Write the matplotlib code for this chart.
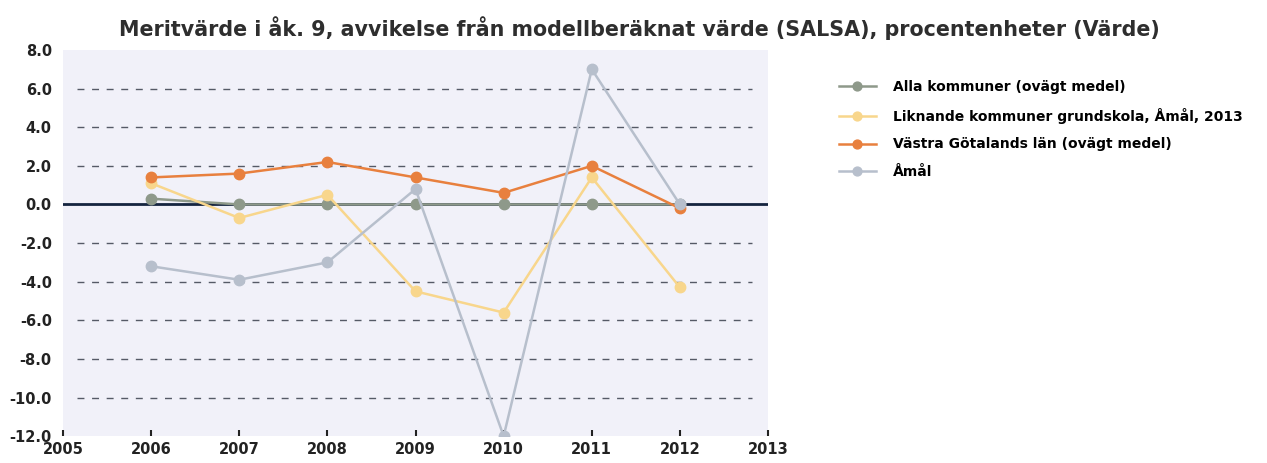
import numpy as np
import matplotlib.pyplot as plt

years = [2006, 2007, 2008, 2009, 2010, 2011, 2012]
alla = [0.3, 0.0, 0.0, 0.0, 0.0, 0.0, 0.0]
liknande = [1.1, -0.7, 0.5, -4.5, -5.6, 1.4, -4.3]
vastra = [1.4, 1.6, 2.2, 1.4, 0.6, 2.0, -0.2]
amal = [-3.2, -3.9, -3.0, 0.8, -12.0, 7.0, 0.0]

labels = ["Alla kommuner (ovägt medel)",
          "Liknande kommuner grundskola, Åmål, 2013",
          "Västra Götalands län (ovägt medel)",
          "Åmål"]
colors = ['#8e998a', '#f8d68c', '#e8803e', '#b7bfcc']

yticks = np.arange(-12, 9, 2)
xticks = np.arange(2005, 2014)

fig = plt.figure(figsize=(12.67, 4.63), dpi=100)
ax = fig.add_axes([0.0497, 0.058, 0.5565, 0.834])
ax.set_facecolor('#f1f1f9')

# streckat rutnät, inte ända ut till kanterna
for y in yticks:
    if y in (-12, 0, 8):
        continue
    ax.axhline(y, xmin=0.02, xmax=0.977, color='#555a66', lw=1.0,
               ls=(0, (5, 5.5)), zorder=1)
ax.axhline(0, color='#15243f', lw=2, zorder=2)

series = [alla, liknande, vastra, amal]
order = [3, 0, 1, 2]
for i in order:
    ax.plot(years, series[i], color=colors[i], lw=1.8, marker='o', ms=7.5,
            label=labels[i], zorder=3 + i)

ax.set_xlim(2005, 2013)
ax.set_ylim(-12, 8)
ax.set_xticks(xticks)
ax.set_yticks(yticks)
ax.set_yticklabels([f"{v:.1f}" for v in yticks])
for s in ax.spines.values():
    s.set_visible(False)
ax.tick_params(axis='x', direction='in', length=4, width=1.5, color='#222222',
               labelsize=10.5, pad=4)
ax.tick_params(axis='y', length=0, labelsize=10.5, pad=8)
for t in ax.get_xticklabels() + ax.get_yticklabels():
    t.set_fontweight('bold')
    t.set_color('#222222')

h, l = ax.get_legend_handles_labels()
idx = [l.index(x) for x in labels]
fig.legend([h[i] for i in idx], [l[i] for i in idx], loc='upper left',
           bbox_to_anchor=(0.652, 0.855), frameon=False,
           prop={'size': 10, 'weight': 'bold'}, handlelength=2.7,
           handletextpad=1.2, labelspacing=1.0, markerscale=0.85)

fig.suptitle("Meritvärde i åk. 9, avvikelse från modellberäknat värde (SALSA), procentenheter (Värde)",
             x=0.505, y=0.965, fontsize=14.9, fontweight='bold', color='#2e2e2e')

fig.savefig('out.png', dpi=100)
